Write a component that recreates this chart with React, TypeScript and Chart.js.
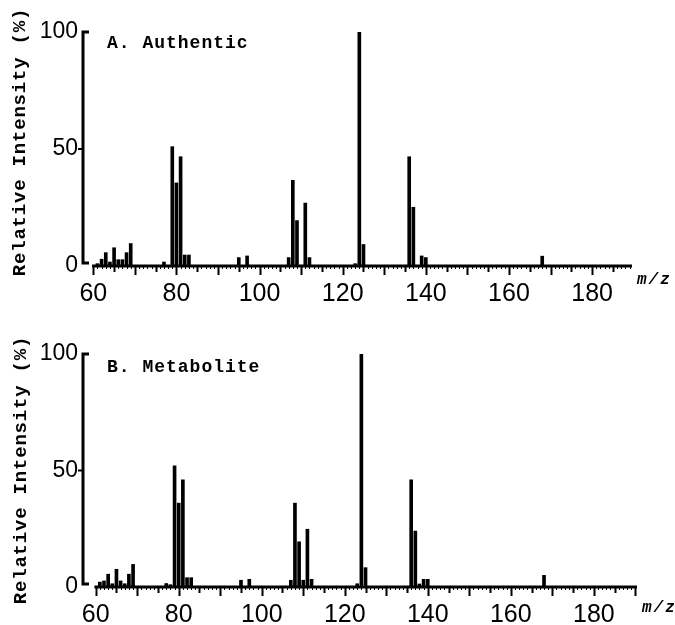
import React, { useEffect, useRef } from "react";
import { Chart, registerables } from "chart.js";

Chart.register(...registerables);

// ---- data ----
const mzAuthentic = [61, 62, 63, 64, 65, 66, 67, 68, 69, 77, 79, 80, 81, 82, 83, 95, 97, 107, 108, 109, 111, 112, 123, 124, 125, 136, 137, 139, 140, 168];
const intAuthentic = [1, 2.9, 5.7, 1.7, 7.8, 2.7, 2.7, 5.7, 9.6, 1.7, 51, 35.5, 46.7, 4.7, 4.7, 3.6, 4.3, 3.6, 36.6, 19.4, 26.9, 3.6, 1, 100, 9.2, 46.7, 25.1, 4.3, 3.6, 4.2];

const mzMetabolite = [61, 62, 63, 64, 65, 66, 67, 68, 69, 77, 78, 79, 80, 81, 82, 83, 95, 97, 107, 108, 109, 110, 111, 112, 123, 124, 125, 136, 137, 138, 139, 140, 168];
const intMetabolite = [2.1, 2.6, 5.5, 1.4, 7.6, 2.6, 1.4, 5.5, 9.7, 1.5, 1, 52, 36, 46, 4, 4, 2.9, 3.3, 2.9, 36, 19.4, 2.9, 24.8, 3.3, 1.4, 100, 8.3, 46, 24, 1.3, 3.3, 3.3, 5];

const xTickLabels = [60, 80, 100, 120, 140, 160, 180];
const yTickLabels = [0, 50, 100];
const panelTitles = ["A. Authentic", "B. Metabolite"];
const yAxisTitle = "Relative Intensity (%)";
const xAxisTitle = "m/z";

// ---- layout of the two panels (canvas coordinates) ----
const panels = [
  {
    mz: mzAuthentic, values: intAuthentic, title: panelTitles[0],
    top: 0, height: 310, padTop: 32, padRight: 43, xHeight: 44,
    xMin: 57.52, xMax: 189.6,
    titlePos: [107, 43], yTitlePos: [20, 142], mzPos: [637, 280],
  },
  {
    mz: mzMetabolite, values: intMetabolite, title: panelTitles[1],
    top: 315, height: 310, padTop: 39, padRight: 38, xHeight: 38,
    xMin: 56.94, xMax: 190.4,
    titlePos: [107, 52], yTitlePos: [21, 155], mzPos: [642, 293],
  },
];

const decorPlugin = {
  id: "decor",
  afterDraw(chart: any, _args: any, opts: any) {
    const { ctx, chartArea } = chart;
    const x = chart.scales.x;
    const y = chart.scales.y;
    ctx.save();
    ctx.strokeStyle = "#000";
    ctx.fillStyle = "#000";
    const y0 = y.getPixelForValue(0);
    const start = 59.7;
    // x axis line
    ctx.lineWidth = 3;
    ctx.beginPath();
    ctx.moveTo(x.getPixelForValue(start), y0);
    ctx.lineTo(chartArea.right, y0);
    ctx.stroke();
    // x tick marks
    for (let v = Math.ceil(start); v <= x.max; v++) {
      const px = Math.round(x.getPixelForValue(v)) + 0.5;
      const len = v % 10 === 0 ? 9 : v % 5 === 0 ? 6 : 3;
      ctx.lineWidth = v % 5 === 0 ? 2 : 1;
      ctx.beginPath();
      ctx.moveTo(px, y0);
      ctx.lineTo(px, y0 + len);
      ctx.stroke();
    }
    // y axis line
    const yl = chartArea.left;
    const y100 = y.getPixelForValue(100);
    const y50 = y.getPixelForValue(50);
    ctx.lineWidth = 3;
    ctx.beginPath();
    ctx.moveTo(yl + 6, y100);
    ctx.lineTo(yl, y100);
    ctx.lineTo(yl, y0 - 3);
    ctx.lineTo(yl + 6, y0 - 3);
    ctx.stroke();
    ctx.lineWidth = 2;
    ctx.beginPath();
    ctx.moveTo(yl, y50);
    ctx.lineTo(yl - 5, y50);
    ctx.stroke();

    // panel title
    ctx.textBaseline = "middle";
    ctx.textAlign = "left";
    ctx.font = "bold 18px 'Liberation Mono'";
    (ctx as any).letterSpacing = "1px";
    ctx.fillText(opts.title, opts.titlePos[0], opts.titlePos[1]);

    // m/z label
    ctx.font = "bold italic 16px 'Liberation Mono'";
    (ctx as any).letterSpacing = "2px";
    ctx.fillText(xAxisTitle, opts.mzPos[0], opts.mzPos[1]);

    // y axis title
    ctx.save();
    ctx.translate(opts.yTitlePos[0], opts.yTitlePos[1]);
    ctx.rotate(-Math.PI / 2);
    ctx.textAlign = "center";
    ctx.font = "bold 19px 'Liberation Mono'";
    (ctx as any).letterSpacing = "0.8px";
    ctx.fillText(yAxisTitle, 0, 0);
    ctx.restore();

    ctx.restore();
  },
};

function makeChart(canvas: HTMLCanvasElement, p: any) {
  return new Chart(canvas, {
    type: "bar",
    data: {
      datasets: [
        {
          data: p.mz.map((m: number, i: number) => ({ x: m, y: p.values[i] })),
          backgroundColor: "#000",
          borderWidth: 0,
          barThickness: 3,
          grouped: false,
        } as any,
      ],
    },
    options: {
      responsive: false,
      animation: false,
      devicePixelRatio: 1,
      layout: { padding: { top: p.padTop, right: p.padRight, left: 0, bottom: 0 } },
      plugins: {
        legend: { display: false },
        tooltip: { enabled: false },
        decor: { title: p.title, titlePos: p.titlePos, yTitlePos: p.yTitlePos, mzPos: p.mzPos },
      } as any,
      scales: {
        x: {
          type: "linear",
          offset: false,
          min: p.xMin,
          max: p.xMax,
          grid: { display: false, drawTicks: false, offset: false },
          border: { display: false },
          afterBuildTicks: (s: any) => {
            s.ticks = xTickLabels.map((v) => ({ value: v }));
          },
          afterFit: (s: any) => {
            s.height = p.xHeight;
          },
          ticks: {
            padding: 13,
            autoSkip: false,
            maxRotation: 0,
            color: "#000",
            font: { family: "'Liberation Sans'", size: 25 },
          },
        },
        y: {
          type: "linear",
          min: 0,
          max: 100,
          grid: { display: false, drawTicks: false },
          border: { display: false },
          afterBuildTicks: (s: any) => {
            s.ticks = yTickLabels.map((v) => ({ value: v }));
          },
          afterFit: (s: any) => {
            s.width = 83;
          },
          ticks: {
            padding: 5,
            color: "#000",
            font: { family: "'Liberation Sans'", size: 23 },
          },
        },
      },
    } as any,
    plugins: [decorPlugin],
  });
}

export default function App() {
  const refA = useRef<HTMLCanvasElement>(null);
  const refB = useRef<HTMLCanvasElement>(null);

  useEffect(() => {
    const charts = [makeChart(refA.current!, panels[0]), makeChart(refB.current!, panels[1])];
    return () => charts.forEach((c) => c.destroy());
  }, []);

  return (
    <div style={{ position: "absolute", left: 0, top: 0, width: 675, height: 625, background: "#fff" }}>
      <canvas
        ref={refA}
        width={675}
        height={panels[0].height}
        style={{ position: "absolute", left: 0, top: panels[0].top, display: "block" }}
      />
      <canvas
        ref={refB}
        width={675}
        height={panels[1].height}
        style={{ position: "absolute", left: 0, top: panels[1].top, display: "block" }}
      />
    </div>
  );
}
